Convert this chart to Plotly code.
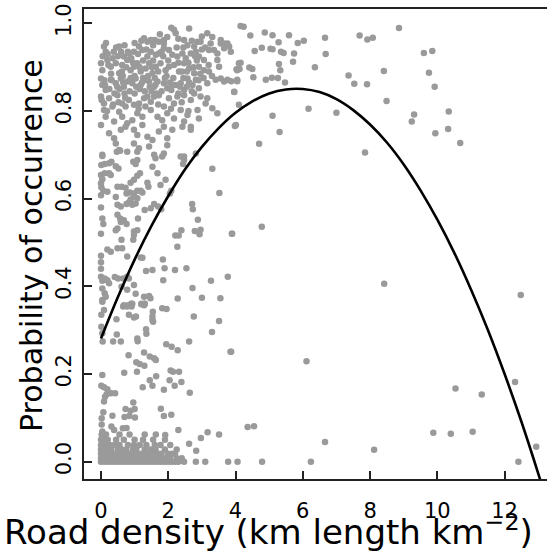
import plotly.graph_objects as go

# ---------------- data ----------------
# dense upper cluster (road density, probability)
top_x = [2.09,2.22,2.17,2.62,1.87,1.97,3.16,3.31,3.56,3.66,4.15,
         1.28,1.38,1.48,1.60,1.72,1.87,2.47,2.57,2.77,2.87,2.96,3.26,3.76,
         0.09,0.14,0.54,0.68,0.83,0.98,1.13,1.23,1.38,1.48,1.63,1.72,1.87,2.02,2.12,2.27,2.42,2.52,2.67,2.82,2.91,3.06,3.21,3.36,3.46,3.56,3.66,3.81,3.86,
         0.00,0.04,0.19,0.29,0.44,0.54,0.63,0.78,0.88,0.98,1.08,1.18,1.33,1.43,1.53,1.63,1.77,1.92,2.02,2.17,2.32,2.47,2.62,2.77,2.91,3.06,3.21,3.46,3.51,4.05,4.10,
         0.00,0.04,0.14,0.29,0.44,0.59,0.68,0.78,0.93,1.03,1.18,1.33,1.43,1.58,1.68,1.87,1.97,2.09,2.22,2.37,2.47,2.57,2.72,2.82,2.91,3.16,3.41,3.56,3.66,3.76,4.05,3.96,
         0.00,0.09,0.24,0.34,0.49,0.63,0.73,0.83,0.98,1.13,1.28,1.38,1.48,1.58,1.72,1.87,2.02,2.17,2.27,2.47,2.67,2.77,2.96,3.11,3.16,3.31,
         0.09,0.14,0.39,0.54,0.63,0.78,0.93,1.08,1.23,1.48,1.68,1.82,1.97,2.17,2.37,2.47,2.57,2.67,2.87,2.91,3.46,
         0.00,0.24,0.39,0.59,0.73,0.98,1.08,1.23,1.38,1.53,1.72,1.87,1.97,2.12,2.42,2.67,4.01,
         0.04,0.44,0.54,0.98,1.13,1.43,1.87,1.97,2.47,2.82,
         0.20,0.35,0.50,0.60,0.75,0.90,1.00,1.10,1.25,1.40,1.55,1.70,1.85,2.00,2.15,2.30,2.45,2.60,2.75,2.85,3.00,
         0.10,0.25,0.40,0.55,0.70,0.85,1.00,1.15,1.30,1.50,1.65,1.80,2.05,2.30,2.55,2.70,3.05,
         0.15,0.45,0.70,1.00,1.20,1.55,1.75,2.30,2.45,2.70,3.00,3.10,
         0.30,0.65,1.25,1.60,2.40,2.90,3.30,
         0.05,0.22,0.38,0.62,0.80,0.95,1.15,1.35,1.52,1.80,1.95,2.25,2.55,2.80,3.20,
         0.12,0.32,0.48,0.66,0.88,1.05,1.22,1.45,1.62,1.90,2.12,2.35,2.62,2.95,
         0.02,0.18,0.36,0.52,0.72,1.12,1.32,1.70,2.08,2.40,2.60]
top_y = [0.990,0.977,0.985,0.988,0.962,0.969,0.977,0.969,0.962,0.954,0.994,
         0.966,0.958,0.962,0.962,0.958,0.954,0.962,0.950,0.947,0.958,0.958,0.954,0.954,
         0.947,0.935,0.947,0.924,0.931,0.935,0.947,0.939,0.924,0.935,0.928,0.931,0.943,0.939,0.928,0.924,0.931,0.920,0.931,0.935,0.924,0.916,0.939,0.939,0.931,0.954,0.943,0.947,0.935,
         0.909,0.893,0.916,0.901,0.909,0.886,0.905,0.916,0.893,0.901,0.909,0.890,0.897,0.909,0.886,0.901,0.909,0.893,0.901,0.905,0.890,0.909,0.897,0.886,0.901,0.893,0.890,0.916,0.901,0.893,0.909,
         0.874,0.859,0.848,0.871,0.863,0.874,0.855,0.867,0.863,0.874,0.859,0.871,0.867,0.855,0.867,0.863,0.852,0.848,0.859,0.863,0.848,0.874,0.859,0.871,0.852,0.863,0.871,0.874,0.867,0.871,0.871,0.844,
         0.833,0.817,0.829,0.810,0.836,0.817,0.810,0.825,0.814,0.817,0.829,0.833,0.821,0.833,0.836,0.810,0.829,0.817,0.833,0.836,0.825,0.840,0.833,0.817,0.829,0.806,
         0.802,0.787,0.776,0.798,0.787,0.772,0.779,0.795,0.787,0.802,0.787,0.779,0.795,0.783,0.802,0.776,0.791,0.764,0.802,0.783,0.795,
         0.768,0.749,0.738,0.757,0.764,0.757,0.745,0.768,0.741,0.734,0.753,0.764,0.738,0.757,0.764,0.757,0.768,
         0.700,0.726,0.711,0.726,0.715,0.719,0.703,0.722,0.696,0.703,
         0.930,0.920,0.925,0.935,0.900,0.920,0.880,0.930,0.915,0.880,0.915,0.890,0.925,0.915,0.875,0.910,0.875,0.910,0.900,0.915,0.940,
         0.870,0.850,0.840,0.850,0.840,0.845,0.840,0.850,0.845,0.845,0.840,0.845,0.865,0.840,0.855,0.845,0.875,
         0.955,0.945,0.950,0.955,0.960,0.950,0.975,0.965,0.945,0.960,0.970,0.945,
         0.885,0.880,0.875,0.875,0.890,0.870,0.880,
         0.925,0.905,0.935,0.890,0.935,0.910,0.900,0.940,0.900,0.935,0.880,0.945,0.890,0.925,0.905,
         0.860,0.870,0.855,0.865,0.875,0.855,0.865,0.855,0.860,0.875,0.860,0.855,0.865,0.885,
         0.825,0.800,0.815,0.820,0.830,0.805,0.810,0.815,0.805,0.820,0.800]

# left column, middle probabilities
mid_x = [0.04,0.47,0.57,0.78,1.08,
         0.01,0.11,0.24,0.44,0.52,0.31,0.96,1.03,1.08,
         1.62,1.58,1.82,2.37,2.47,2.44,1.53,
         0.00,0.04,0.00,0.01,0.07,0.00,0.19,0.24,0.29,0.11,
         0.88,0.98,1.08,1.16,1.38,1.41,1.68,1.77,1.92,2.05,2.09,
         0.49,0.61,0.73,0.76,0.86,0.98,1.08,1.18,1.23,
         0.44,0.49,0.59,0.76,0.83,0.93,1.03,0.88,0.98,1.08,1.58,1.70,1.79,1.48,1.30,
         0.04,0.07,0.49,0.57,0.59,0.68,0.76,1.10,0.49,0.44,0.98,1.08,0.96,0.98,0.61,0.63,0.19,0.29,0.49,0.78,1.18,
         0.00,0.04,0.11,0.19,0.24,0.41,0.51,0.66,0.83,0.78,
         0.04,0.11,0.14,0.04,0.61,0.78,1.28,
         0.68,0.78,0.93,1.28,
         0.00,0.00,0.00,0.00,0.00]
mid_y = [0.697,0.707,0.709,0.707,0.707,
         0.677,0.679,0.681,0.674,0.669,0.684,0.684,0.679,0.688,
         0.692,0.700,0.696,0.696,0.688,0.679,0.673,
         0.654,0.644,0.635,0.626,0.618,0.608,0.616,0.658,0.654,0.658,
         0.636,0.643,0.652,0.658,0.636,0.627,0.658,0.631,0.643,0.612,0.618,
         0.627,0.627,0.625,0.612,0.614,0.612,0.618,0.618,0.614,
         0.604,0.586,0.582,0.588,0.591,0.586,0.589,0.598,0.604,0.601,0.588,0.582,0.576,0.578,0.574,
         0.555,0.542,0.563,0.555,0.547,0.551,0.542,0.555,0.532,0.528,0.525,0.528,0.506,0.517,0.506,0.487,0.484,0.479,0.487,0.468,0.466,
         0.422,0.413,0.418,0.414,0.407,0.421,0.418,0.418,0.418,0.422,
         0.395,0.384,0.376,0.369,0.399,0.392,0.376,
         0.357,0.354,0.360,0.357,
         0.580,0.520,0.470,0.455,0.440]

# lower-left points below the curve
low_x = [3.31,3.52,2.71,2.73,2.88,3.89,2.79,2.96,2.93,2.21,2.31,2.39,2.27,1.84,1.89,2.20,2.54,1.34,1.53,1.85,1.23,2.72,3.27,3.77,2.28,3.00,3.55,1.43,1.47,0.98,1.03,1.20,1.30,1.82,1.95,
         2.76,3.51,3.30,2.62,1.94,2.10,2.28,3.85,2.07,2.14,2.32,2.04,2.19,2.39,1.87,2.64,1.64,1.45,1.53,1.24,1.07,0.69,1.28,1.05,1.15,1.29,1.45,1.58,1.63,0.82,1.78,1.87,2.09,0.96,1.00,0.88,0.73,0.70,0.84,1.01,0.34,
         0.04,0.01,0.09,0.19,0.17,0.12,0.30,0.42,0.09,0.07,0.02,0.02,0.31,0.39,0.65,0.76,0.04,
         0.05,0.36,0.59,1.09,1.08,1.35,1.34,1.53,1.55,1.54,1.53,0.47,0.46,0.01,0.83,0.98,1.04,0.90,0.91,0.66,0.81,0.04,0.09,0.01,0.04,1.20,1.30]
low_y = [0.668,0.613,0.588,0.576,0.552,0.520,0.526,0.529,0.519,0.516,0.516,0.528,0.490,0.461,0.441,0.437,0.441,0.435,0.437,0.414,0.465,0.396,0.413,0.422,0.372,0.374,0.373,0.378,0.373,0.403,0.383,0.359,0.360,0.350,0.348,
         0.331,0.321,0.296,0.274,0.268,0.262,0.254,0.251,0.208,0.205,0.205,0.186,0.173,0.182,0.164,0.157,0.195,0.186,0.173,0.170,0.205,0.203,0.249,0.227,0.223,0.219,0.240,0.236,0.232,0.243,0.121,0.104,0.107,0.135,0.120,0.116,0.120,0.102,0.104,0.101,0.105,
         0.198,0.173,0.170,0.165,0.154,0.148,0.156,0.156,0.137,0.113,0.099,0.085,0.080,0.072,0.076,0.077,0.069,
         0.274,0.274,0.274,0.275,0.281,0.292,0.302,0.323,0.319,0.342,0.331,0.290,0.325,0.308,0.335,0.329,0.331,0.360,0.354,0.354,0.357,0.365,0.346,0.335,0.293,0.360,0.360]

# band of near-zero probabilities
zero_x = [0.00,0.10,0.20,0.30,0.40,0.50,0.60,0.70,0.80,0.90,1.00,1.10,1.20,1.30,1.40,1.50,1.60,1.70,1.80,1.90,2.00,2.10,2.20,2.30,2.47,2.82,3.10,3.78,4.06,
          0.00,0.05,0.15,0.25,0.35,0.45,0.55,0.65,0.75,0.85,0.95,1.05,1.15,1.25,1.35,1.45,1.55,1.65,1.75,1.85,1.95,2.05,2.25,2.40,
          0.00,0.10,0.22,0.33,0.42,0.58,0.70,0.82,0.92,1.10,1.22,1.40,1.52,1.70,1.80,2.00,2.11,2.20,2.83,
          0.00,0.05,0.18,0.30,0.50,0.62,0.75,0.95,1.05,1.30,1.48,1.62,1.90,2.25,
          0.00,0.12,0.26,0.40,0.55,0.80,0.98,1.15,1.35,1.60,1.77,2.06,
          0.00,0.08,0.20,0.45,0.68,1.00,1.25,1.55,1.90,2.62,
          0.02,0.15,0.55,0.85,1.30,1.63,1.91,2.97,3.17,3.51,2.30]
zero_y = [0.000]*29 + [0.008]*24 + [0.018]*18 + [0.025] + [0.028]*14 + [0.038]*12 + \
         [0.050,0.050,0.050,0.050,0.050,0.050,0.050,0.050,0.050,0.041] + \
         [0.062,0.062,0.062,0.062,0.062,0.062,0.061,0.054,0.067,0.062,0.072]

# scattered points at higher road density
far_x = [4.24,4.44,4.87,5.10,5.59,5.28,4.78,4.57,5.04,5.10,5.35,5.43,5.74,5.85,6.03,6.66,6.68,5.71,5.29,5.33,4.15,4.03,4.12,4.41,4.50,4.53,3.87,4.05,4.90,5.08,5.26,5.47,3.96,4.10,3.98,5.10,5.31,4.70,6.17,7.00,6.36,7.36,7.53,7.91,7.69,7.92,8.08,8.86,8.41,8.49,7.85,9.24,9.31,9.60,9.85,9.75,9.92,10.34,10.32,10.68,9.94,3.90,4.78,
         12.48,12.31,10.54,11.32,9.88,10.40,11.05,12.94,12.41,6.24,6.66,8.12,8.42,3.87,6.11,4.36,4.55,4.79]
far_y = [0.992,0.972,0.979,0.973,0.973,0.957,0.944,0.937,0.942,0.941,0.935,0.932,0.931,0.955,0.960,0.967,0.930,0.912,0.907,0.893,0.910,0.895,0.896,0.899,0.896,0.877,0.868,0.868,0.871,0.876,0.875,0.865,0.843,0.814,0.766,0.789,0.752,0.725,0.805,0.796,0.900,0.881,0.862,0.861,0.972,0.963,0.967,0.989,0.891,0.823,0.705,0.776,0.792,0.932,0.937,0.887,0.855,0.799,0.759,0.727,0.749,0.520,0.536,
         0.380,0.182,0.167,0.153,0.066,0.064,0.068,0.034,0.000,0.000,0.045,0.027,0.406,0.251,0.229,0.079,0.081,0.000]

# fitted curve
curve_x = [0.0,0.5,1.0,1.5,2.0,2.5,3.0,3.5,4.0,4.5,5.0,5.5,6.0,6.5,7.0,7.5,8.0,8.5,9.0,9.5,10.0,10.5,11.0,11.5,12.0,12.5,13.0,13.1]
curve_y = [0.281,0.375,0.461,0.538,0.606,0.667,0.718,0.761,0.796,0.822,0.840,0.849,0.850,0.843,0.827,0.802,0.769,0.728,0.678,0.619,0.552,0.477,0.393,0.301,0.200,0.091,-0.027,-0.052]

x_ticks = [0, 2, 4, 6, 8, 10, 12]
x_tick_labels = ["0", "2", "4", "6", "8", "10", "12"]
y_ticks = [0.0, 0.2, 0.4, 0.6, 0.8, 1.0]
y_tick_labels = ["0.0", "0.2", "0.4", "0.6", "0.8", "1.0"]

x_title = "Road density (km length km<sup>−2</sup>)"
y_title = "Probability of occurrence"

# ---------------- figure ----------------
pts_x = top_x + mid_x + low_x + zero_x + far_x
pts_y = top_y + mid_y + low_y + zero_y + far_y

FONT = "DejaVu Sans, Liberation Sans, Arial, sans-serif"

fig = go.Figure()
fig.add_trace(go.Scatter(x=pts_x, y=pts_y, mode="markers",
                         marker=dict(size=6.5, color="#9a9a9a", line=dict(width=0)),
                         hoverinfo="skip", cliponaxis=True))
fig.add_trace(go.Scatter(x=curve_x, y=curve_y, mode="lines",
                         line=dict(color="black", width=2.6, shape="spline"),
                         hoverinfo="skip"))

W, H = 547, 552
L, R, T, B = 84, 0, 9, 552 - 479
pw, ph = W - L - R, H - T - B

axis_common = dict(showgrid=False, zeroline=False, showline=True, linecolor="#222222",
                   linewidth=1.6, ticks="inside", ticklen=8, tickwidth=1.5,
                   tickcolor="#222222", ticklabeloverflow="allow",
                   tickfont=dict(family=FONT, size=21, color="black"))

fig.update_layout(
    width=W, height=H,
    margin=dict(l=L, r=R, t=T, b=B, pad=0),
    plot_bgcolor="white", paper_bgcolor="white",
    showlegend=False,
    xaxis=dict(range=[-0.505, 13.26], tickvals=x_ticks, ticktext=x_tick_labels,
               mirror=True, ticklabelstandoff=12, automargin=False, **axis_common),
    yaxis=dict(range=[-0.0395, 1.0326], tickvals=y_ticks, ticktext=y_tick_labels,
               tickangle=-90, mirror=False, ticklabelstandoff=3, automargin=False,
               **axis_common),
    annotations=[
        dict(text=x_title, xref="paper", yref="paper",
             x=(268 - L) / pw, y=(479 - 530) / ph, xanchor="center", yanchor="middle",
             showarrow=False, font=dict(family=FONT, size=34, color="black")),
        dict(text=y_title, xref="paper", yref="paper", textangle=-90,
             x=(31 - L) / pw, y=(479 - 246) / ph, xanchor="center", yanchor="middle",
             showarrow=False, font=dict(family=FONT, size=30, color="black")),
    ],
)

# remove the browser's default 8 px body margin so the figure fills the window
fig.write_html("out.html", config={"displayModeBar": False},
               post_script="document.body.style.margin='0px';")
